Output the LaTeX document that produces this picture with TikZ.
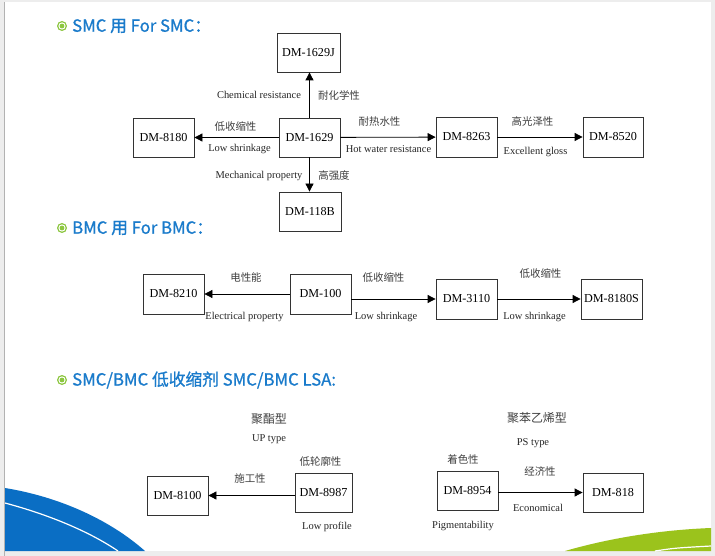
\documentclass[tikz,border=0pt]{standalone}
\usepackage{fontspec}
\setmainfont{Liberation Serif}
\newfontfamily\cjk{Noto Sans CJK SC}
\newfontfamily\ttlfont{Noto Sans CJK SC}[FakeBold=0.9]
\usetikzlibrary{arrows.meta}
\definecolor{ttlblue}{HTML}{1A7BCB}
\definecolor{swblue}{HTML}{0A6EC4}
\definecolor{swgreen}{HTML}{9BC31C}
\definecolor{dotgreen}{HTML}{8CC63F}
\definecolor{edgegray}{HTML}{EDEDED}
\begin{document}
\begin{tikzpicture}[x=1bp,y=-1bp,>={Triangle[length=8bp,width=8bp]},
	box/.style={draw=black!80,line width=0.8bp,minimum width=61bp,minimum height=39bp,inner sep=0pt,font=\fontsize{12.2}{14}\selectfont},
	en/.style={inner sep=0pt,text=black!85,font=\fontsize{10.5}{12}\selectfont},
	zh/.style={inner sep=0pt,text=black!75,font=\cjk\fontsize{10.5}{12}\selectfont},
	zhbig/.style={zh,font=\cjk\fontsize{12}{14}\selectfont},
	ttl/.style={anchor=west,inner sep=0pt,text=ttlblue,font=\ttlfont\fontsize{16.8}{20}\selectfont},
	arr/.style={->,line width=0.8bp}]
	\useasboundingbox (0,0) rectangle (715,556);
	\fill[edgegray] (0,0) rectangle (715,556);
	\fill[white] (5,2) rectangle (711,551);
	\draw[black!30] (4.5,2)--(4.5,556);
	\fill[swblue] (5,488) .. controls (60,497) and (110,520) .. (145,551) -- (5,551) -- cycle;
	\draw[white,line width=1.2bp] (5,503) .. controls (50,515) and (90,532) .. (118,551);
	\fill[swgreen] (565,551) .. controls (610,538) and (660,530) .. (711,528) -- (711,551) -- cycle;
	\draw[white,line width=1.2bp] (655,551) .. controls (675,548) .. (711,546);
	\foreach \y in {26,228,380}{
		\fill[dotgreen] (62,\y) circle (5bp);
		\fill[white] (62,\y) circle (3.6bp);
		\fill[dotgreen] (62,\y) circle (2.4bp);
	}
	\node[ttl] (smc) at (72,26) {SMC 用 For SMC：};
	\node[ttl] (bmc) at (72,228) {BMC 用 For BMC：};
	\node[ttl] (lsa) at (72,380) {SMC/BMC 低收缩剂 SMC/BMC LSA:};
	\node[box,minimum width=63bp] (n1629j) at (308.5,52.5) {DM-1629J};
	\node[box] (n8180) at (163.5,137.5) {DM-8180};
	\node[box] (n1629) at (309.5,137.5) {DM-1629};
	\node[box,minimum width=62bp] (n118b) at (310,211.5) {DM-118B};
	\node[box,minimum height=40bp] (n8263) at (466.5,137) {DM-8263};
	\node[box,minimum width=60bp,minimum height=40bp] (n8520) at (613,137) {DM-8520};
	\draw[arr] (n1629.north) -- (n1629.north |- n1629j.south);
	\draw[arr] (n1629.south) -- (n1629.south |- n118b.north);
	\draw[arr] (n1629) -- (n8180);
	\draw[arr] (n1629) -- (n8263);
	\draw[arr] (n8263) -- (n8520);
	\node[en] (chem) at (259,95) {Chemical resistance};
	\node[zh] (chemzh) at (339,95) {耐化学性};
	\node[zh] (lowzh) at (235.5,127) {低收缩性};
	\node[en] (low) at (239.5,149) {Low shrinkage};
	\node[en] (mech) at (259,176) {Mechanical property};
	\node[zh] (mechzh) at (334,176) {高强度};
	\node[zh] (hotzh) at (379.5,122) {耐热水性};
	\node[en] (hot) at (388.5,149) {Hot water resistance};
	\node[zh] (glosszh) at (532.5,122) {高光泽性};
	\node[en] (gloss) at (535.5,152) {Excellent gloss};
	\node[box,minimum height=40bp] (n8210) at (173.5,294) {DM-8210};
	\node[box,minimum height=40bp] (n100) at (320.5,294) {DM-100};
	\node[box,minimum height=40bp] (n3110) at (466.5,299) {DM-3110};
	\node[box,minimum height=40bp] (n8180s) at (611.5,299) {DM-8180S};
	\draw[arr] (n100) -- (n8210);
	\draw[arr] (n100.east |- n3110) -- (n3110.west);
	\draw[arr] (n3110) -- (n8180s);
	\node[zh] (elezh) at (246,278) {电性能};
	\node[en] (ele) at (244.5,317) {Electrical property};
	\node[zh] (lowzhb) at (383.5,278) {低收缩性};
	\node[en] (lowb) at (386,317) {Low shrinkage};
	\node[zh] (lowzhc) at (540.5,274) {低收缩性};
	\node[en] (lowc) at (534.5,317) {Low shrinkage};
	\node[zhbig] (upzh) at (269,419) {聚酯型};
	\node[en] (up) at (269,439) {UP type};
	\node[zhbig] (pszh) at (537,418) {聚苯乙烯型};
	\node[en] (ps) at (533,443) {PS type};
	\node[box] (n8100) at (177.5,495.5) {DM-8100};
	\node[box,minimum width=57bp] (n8987) at (323.5,492.5) {DM-8987};
	\node[box] (n8954) at (467.5,490.5) {DM-8954};
	\node[box,minimum width=60bp] (n818) at (613,492.5) {DM-818};
	\draw[arr] (n8987.west |- n8100) -- (n8100.east);
	\draw[arr] (n8954.east |- n818) -- (n818.west);
	\node[zh] (profzh) at (320.5,462) {低轮廓性};
	\node[zh] (workzh) at (250,479) {施工性};
	\node[en] (prof) at (327,527) {Low profile};
	\node[zh] (pigzh) at (463,460) {着色性};
	\node[zh] (ecozh) at (540,472) {经济性};
	\node[en] (eco) at (538,508) {Economical};
	\node[en] (pig) at (463,526) {Pigmentability};
\end{tikzpicture}
\end{document}
